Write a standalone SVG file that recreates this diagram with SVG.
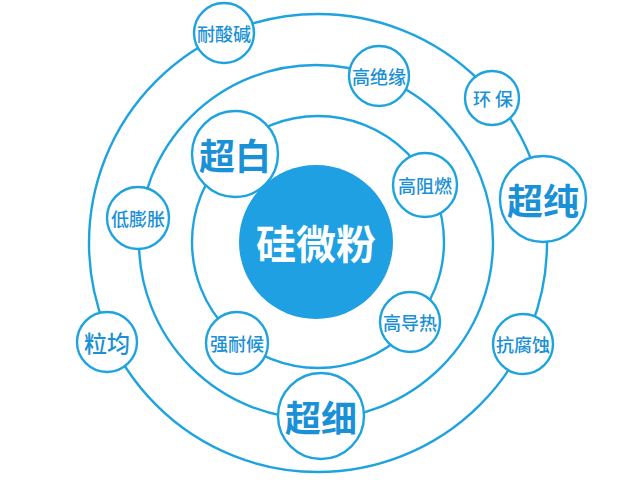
<svg xmlns="http://www.w3.org/2000/svg" width="640" height="480" viewBox="0 0 640 480">
<style>
.ring{fill:none;stroke:#1fa3df;stroke-width:2.4}
.b{fill:#fff;stroke:#1fa3df;stroke-width:2.4}
.t{fill:#1a90d6;font-family:"Noto Sans CJK SC","Noto Sans",sans-serif;text-anchor:middle;dominant-baseline:central;font-weight:500}
.s{font-size:18px}
.m{font-size:23px}
.l{font-size:36px;font-weight:600}
</style>
<rect width="640" height="480" fill="#fff"/>
<g id="rings">
<circle class="ring" cx="318" cy="243" r="229"/>
<circle class="ring" cx="316" cy="242" r="177"/>
<circle class="ring" cx="318" cy="242" r="126"/>
</g>
<g id="center">
<circle cx="316" cy="242" r="77" fill="#1ea0e2"/>
<text class="t" x="316" y="242" font-size="40" style="fill:#fff;font-weight:bold">硅微粉</text>
</g>
<g id="n-naisuanjian"><circle class="b" cx="224" cy="33" r="30"/><text class="t s" x="224" y="33">耐酸碱</text></g>
<g id="n-gaojueyuan"><circle class="b" cx="379" cy="76" r="30"/><text class="t s" x="379" y="76">高绝缘</text></g>
<g id="n-huanbao"><circle class="b" cx="492" cy="98" r="27"/><text class="t s" x="493" y="98">环 保</text></g>
<g id="n-chaochun"><circle class="b" cx="543" cy="199" r="43"/><text class="t l" x="543" y="199">超纯</text></g>
<g id="n-kangfushi"><circle class="b" cx="523" cy="344" r="30"/><text class="t s" x="523" y="344">抗腐蚀</text></g>
<g id="n-chaoxi"><circle class="b" cx="321" cy="416" r="43"/><text class="t l" x="321" y="416">超细</text></g>
<g id="n-lijun"><circle class="b" cx="107" cy="342" r="30"/><text class="t m" x="107" y="342">粒均</text></g>
<g id="n-dipengzhang"><circle class="b" cx="138" cy="218" r="31"/><text class="t s" x="138" y="218">低膨胀</text></g>
<g id="n-chaobai"><circle class="b" cx="235" cy="154" r="43"/><text class="t l" x="235" y="154">超白</text></g>
<g id="n-gaozuran"><circle class="b" cx="425" cy="185" r="32"/><text class="t s" x="425" y="185">高阻燃</text></g>
<g id="n-gaodaore"><circle class="b" cx="410" cy="322" r="30"/><text class="t s" x="410" y="322">高导热</text></g>
<g id="n-qiangnaihou"><circle class="b" cx="237" cy="343" r="31"/><text class="t s" x="237" y="343">强耐候</text></g>
</svg>
